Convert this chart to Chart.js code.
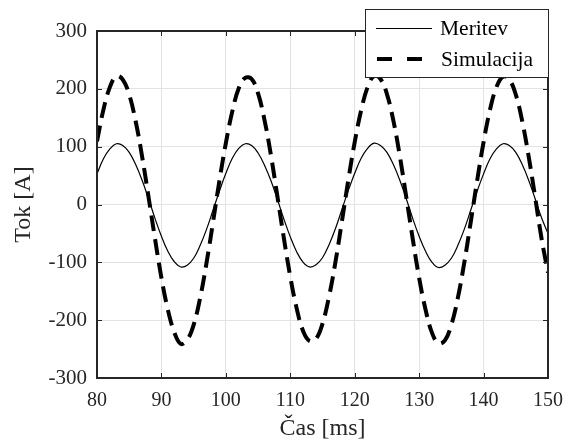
<!DOCTYPE html>
<html>
<head>
<meta charset="utf-8">
<script src="https://cdn.jsdelivr.net/npm/chart.js@4/dist/chart.umd.min.js"></script>
<style>
html,body{margin:0;padding:0;background:#fff;}
#wrap{position:relative;width:569px;height:447px;}
</style>
</head>
<body>
<div id="wrap"><canvas id="c" width="569" height="447"></canvas></div>
<script>
const times = [80,81,82,83,84,85,86,87,88,89,90,91,92,93,94,95,96,97,98,99,
100,101,102,103,104,105,106,107,108,109,110,111,112,113,114,115,116,117,118,119,
120,121,122,123,124,125,126,127,128,129,130,131,132,133,134,135,136,137,138,139,
140,141,142,143,144,145,146,147,148,149,150];
const meritev = [53,79,96,105,102,90,69,42,10,-24,-55,-81,-99,-108,-105,-93,-71,-43,-10,23,
54,80,97,105,102,89,68,41,9,-25,-56,-82,-100,-108,-104,-92,-70,-42,-9,24,
54,80,97,106,102,90,69,42,10,-24,-55,-81,-100,-109,-105,-93,-71,-43,-10,23,
53,79,96,105,102,90,69,42,10,-23,-50];
const simulacija = [109,164,203,222,216,190,144,83,13,-59,-127,-182,-221,-241,-234,-208,-162,-101,-31,41,
106,161,201,219,217,192,146,85,14,-58,-125,-180,-219,-236,-232,-206,-160,-100,-30,42,
108,163,203,222,217,191,145,84,13,-59,-127,-182,-222,-240,-235,-208,-162,-101,-31,41,
108,164,203,221,216,190,144,83,13,-59,-118];
const seriesNames = ['Meritev','Simulacija'];
const xTicks = [80,90,100,110,120,130,140,150];
const yTicks = [-300,-200,-100,0,100,200,300];
const xTitle = 'Čas [ms]';
const yTitle = 'Tok [A]';

const FONT = '"Liberation Serif", "Times New Roman", serif';
const AXC = '#262626';

const framePlugin = {
  id: 'frame',
  afterDraw(chart) {
    const {ctx, chartArea: a, scales} = chart;
    ctx.save();
    ctx.strokeStyle = AXC; ctx.lineWidth = 1;
    xTicks.forEach(v => {
      const x = Math.round(scales.x.getPixelForValue(v)) + 0.5;
      ctx.beginPath(); ctx.moveTo(x, a.bottom); ctx.lineTo(x, a.bottom - 5); ctx.stroke();
      ctx.beginPath(); ctx.moveTo(x, a.top); ctx.lineTo(x, a.top + 5); ctx.stroke();
    });
    yTicks.forEach(v => {
      const y = Math.round(scales.y.getPixelForValue(v)) + 0.5;
      ctx.beginPath(); ctx.moveTo(a.left, y); ctx.lineTo(a.left + 5, y); ctx.stroke();
      ctx.beginPath(); ctx.moveTo(a.right, y); ctx.lineTo(a.right - 5, y); ctx.stroke();
    });
    ctx.lineWidth = 2;
    ctx.strokeRect(a.left, a.top, a.right - a.left, a.bottom - a.top);
    // legend
    const lx = 365, ly = 9, lw = a.right + 1 - 365, lh = 69;
    ctx.fillStyle = '#fff';
    ctx.fillRect(lx, ly, lw, lh);
    ctx.lineWidth = 1; ctx.strokeStyle = AXC;
    ctx.strokeRect(lx + 0.5, ly + 0.5, lw - 1, lh - 1);
    ctx.strokeStyle = '#000';
    ctx.lineWidth = 1.2;
    ctx.beginPath(); ctx.moveTo(376, 28.5); ctx.lineTo(432, 28.5); ctx.stroke();
    ctx.lineWidth = 4;
    ctx.setLineDash([15, 15]);
    ctx.beginPath(); ctx.moveTo(377, 59); ctx.lineTo(424, 59); ctx.stroke();
    ctx.setLineDash([]);
    ctx.fillStyle = '#000';
    ctx.font = '21.5px ' + FONT;
    ctx.textBaseline = 'middle';
    ctx.textAlign = 'left';
    ctx.fillText(seriesNames[0], 440, 29);
    ctx.fillText(seriesNames[1], 441, 60);
    ctx.restore();
  }
};

new Chart(document.getElementById('c'), {
  type: 'line',
  data: {
    datasets: [
      {
        label: seriesNames[0],
        data: times.map((t, i) => ({x: t, y: meritev[i]})),
        borderColor: '#000', borderWidth: 1.2, pointRadius: 0, tension: 0.4, fill: false
      },
      {
        label: seriesNames[1],
        data: times.map((t, i) => ({x: t, y: simulacija[i]})),
        borderColor: '#000', borderWidth: 4, borderDash: [16, 8], pointRadius: 0, tension: 0.4, fill: false
      }
    ]
  },
  options: {
    responsive: false,
    animation: false,
    devicePixelRatio: 1,
    layout: {padding: {top: 31, right: 21, bottom: 0, left: 0}},
    plugins: {legend: {display: false}, tooltip: {enabled: false}},
    scales: {
      x: {
        type: 'linear', min: 80, max: 150,
        afterBuildTicks: s => { s.ticks = xTicks.map(v => ({value: v})); },
        afterFit: s => { s.height = 69; s.paddingLeft = 0; s.paddingRight = 0; },
        grid: {color: '#e3e3e3', lineWidth: 1, drawTicks: false},
        border: {display: false},
        ticks: {color: AXC, font: {family: FONT, size: 20}, padding: 11, maxRotation: 0},
        title: {display: true, text: xTitle, color: AXC, font: {family: FONT, size: 24}, padding: {top: 0, bottom: 4}}
      },
      y: {
        type: 'linear', min: -300, max: 300,
        afterBuildTicks: s => { s.ticks = yTicks.map(v => ({value: v})); },
        afterFit: s => { s.width = 97; s.paddingTop = 0; s.paddingBottom = 0; },
        grid: {color: '#e3e3e3', lineWidth: 1, drawTicks: false},
        border: {display: false},
        ticks: {color: AXC, font: {family: FONT, size: 21}, padding: 10},
        title: {display: true, text: yTitle, color: AXC, font: {family: FONT, size: 24}, padding: {top: 9, bottom: 0}}
      }
    }
  },
  plugins: [framePlugin]
});
</script>
</body>
</html>
